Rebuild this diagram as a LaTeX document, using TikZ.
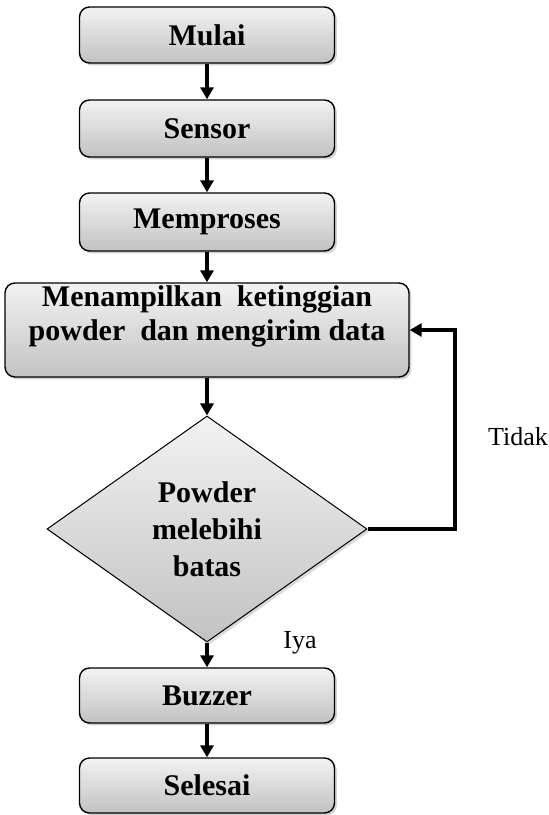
\documentclass[tikz,border=0pt]{standalone}
\usepackage{fontspec}
\setmainfont{Liberation Serif}
\usetikzlibrary{shapes.geometric, arrows.meta, shadows}

\definecolor{boxtop}{RGB}{242,242,242}
\definecolor{boxbottom}{RGB}{194,194,194}

\tikzset{
    proses/.style={draw=black, line width=0.7pt, rounded corners=5pt,
        top color=boxtop, bottom color=boxbottom,
        drop shadow={opacity=0.35, shadow xshift=1.2pt, shadow yshift=-1.2pt},
        minimum width=127.5pt, minimum height=28pt, inner sep=0pt,
        align=center, font=\fontsize{15}{17}\selectfont\bfseries},
    keputusan/.style={diamond, draw=black, line width=0.5pt, aspect=1.416,
        top color=boxtop, bottom color=boxbottom,
        drop shadow={opacity=0.3, shadow xshift=1.2pt, shadow yshift=-1.2pt},
        minimum width=160pt, minimum height=113pt, inner sep=0pt,
        align=center, font=\fontsize{15}{18.5}\selectfont\bfseries},
    panah/.style={line width=1.7pt, -{Triangle[length=6pt, width=6.5pt]}},
    ket/.style={font=\fontsize{13}{15}\selectfont}
}

\begin{document}
\begin{tikzpicture}[x=0.5pt, y=-0.5pt]
    \useasboundingbox (0,0) rectangle (549,815);

    \node[proses] (mulai) at (207,35) {Mulai};
    \node[proses, minimum height=28.5pt] (sensor) at (207,128.5) {Sensor};
    \node[proses, minimum height=29pt] (proses) at (207,222) {Memproses};
    \node[proses, minimum width=202pt, minimum height=47pt, text depth=17pt] (tampil) at (207,330)
        {Menampilkan\ \ ketinggian\\powder\ \ dan mengirim data};
    \node[keputusan] (cek) at (207,529) {Powder\\melebihi\\batas};
    \node[proses, minimum height=27.5pt] (buzzer) at (207,695.5) {Buzzer};
    \node[proses, minimum height=27.5pt] (selesai) at (207,785.5) {Selesai};

    \draw[panah] (mulai) -- (sensor);
    \draw[panah] (sensor) -- (proses);
    \draw[panah] (proses) -- (tampil);
    \draw[panah] (tampil) -- (cek);
    \draw[panah] (cek) -- (buzzer);
    \draw[panah] (buzzer) -- (selesai);

    \coordinate (balik) at (455,529);
    \draw[panah, line width=2pt] (cek.east) -- (balik) |- (tampil.east);

    \node[ket] (tidak) at (518,437) {Tidak};
    \node[ket] (iya) at (300,643) {Iya};
\end{tikzpicture}
\end{document}
